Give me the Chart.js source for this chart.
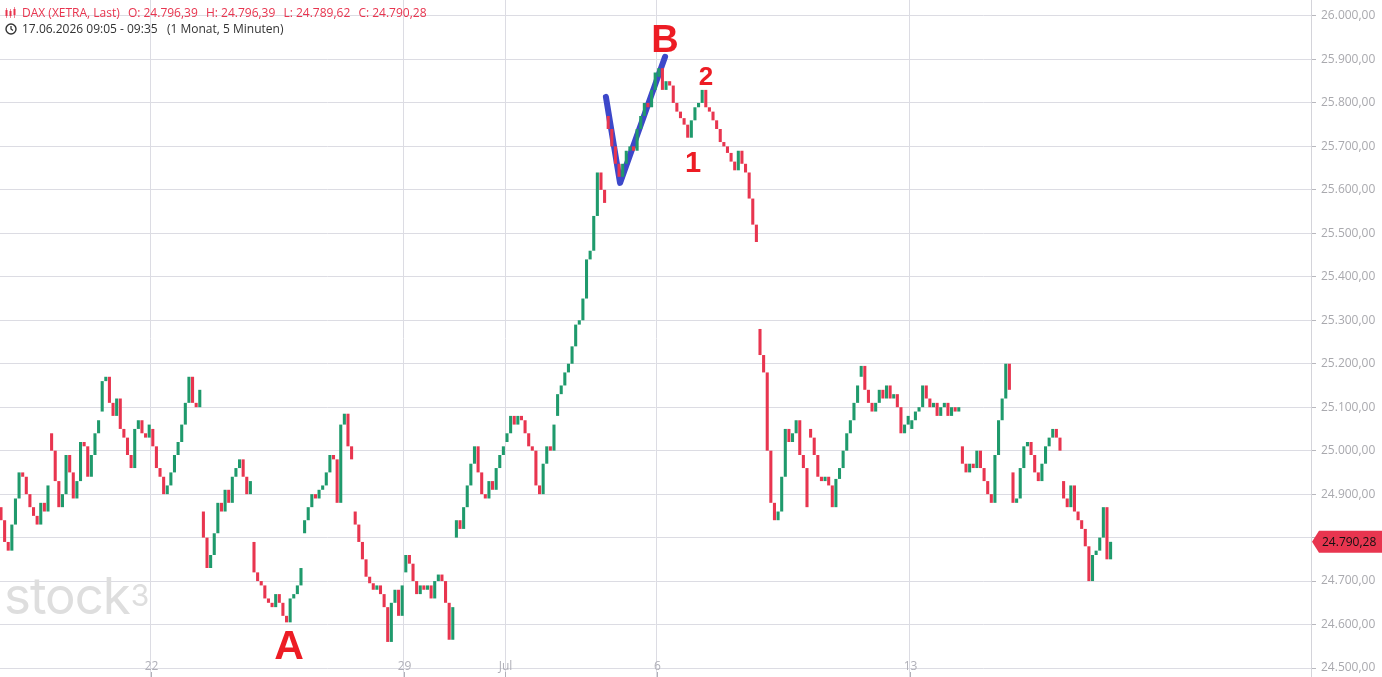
<!DOCTYPE html>
<html>
<head>
<meta charset="utf-8">
<title>DAX (XETRA, Last)</title>
<script src="https://cdn.jsdelivr.net/npm/chart.js@4.4.1/dist/chart.umd.min.js"></script>
<style>
  body { margin: 0; background: #fff; font-family: 'Open Sans', sans-serif; }
  #wrap { position: relative; width: 1382px; height: 677px; overflow: hidden; }
  #grafica { position: absolute; left: 0; top: 0; }
  .info { position: absolute; left: 5px; font-size: 12px; line-height: 16px; white-space: nowrap; }
  .info svg { vertical-align: -2px; margin-right: 5px; }
  #l1 { top: 5px; color: #e8354f; }
  #l1 span { margin-right: 5px; }
  #l2 { top: 21px; color: #333; }
  .mark { position: absolute; transform: translateX(-50%); font-family: 'Liberation Sans', Arial, sans-serif;
          font-weight: bold; color: #ed1c24; line-height: 1; }
  #logo { position: absolute; left: 4px; top: 570px; font-family: Inter, sans-serif; font-size: 51px;
          line-height: 1; color: #dedede; letter-spacing: -1px; }
  #logo sup { font-size: 30px; vertical-align: 8px; margin-left: 1px; }
</style>
</head>
<body>
<div id="wrap">
  <canvas id="grafica" width="1382" height="677"></canvas>
  <div id="logo">stock<sup>3</sup></div>
  <div class="info" id="l1"><svg width="12" height="12" viewBox="0 0 12 12"><g fill="#e8354f"><rect x="0.5" y="3" width="2" height="6"/><rect x="1.2" y="1" width="0.6" height="10"/><rect x="4.5" y="4" width="2" height="5"/><rect x="5.2" y="2" width="0.6" height="9"/><rect x="8.5" y="2" width="2" height="6"/><rect x="9.2" y="0" width="0.6" height="11"/></g></svg><span>DAX (XETRA, Last)</span> <span>O: 24.796,39</span> <span>H: 24.796,39</span> <span>L: 24.789,62</span> <span>C: 24.790,28</span></div>
  <div class="info" id="l2"><svg width="12" height="12" viewBox="0 0 12 12"><circle cx="6" cy="6" r="5" fill="none" stroke="#333" stroke-width="1.4"/><path d="M6 3 V6 L8 7.5" fill="none" stroke="#333" stroke-width="1.3"/></svg>17.06.2026 09:05 - 09:35 &nbsp; (1 Monat, 5 Minuten)</div>
  <div class="mark" style="left:665px; top:20px; font-size:38px;">B</div>
  <div class="mark" style="left:706px; top:63px; font-size:26px;">2</div>
  <div class="mark" style="left:693px; top:148px; font-size:29px;">1</div>
  <div class="mark" style="left:289px; top:625px; font-size:41px;">A</div>
</div>
<script>
// Kurse pro Handelstag: erster Wert = Eröffnung, danach Schlusskurse
const jun17 = [24870, 24840, 24790, 24770, 24830, 24890, 24950, 24940, 24900, 24870, 24850, 24830, 24880, 24860, 24920];
const jun18 = [25040, 25000, 24930, 24870, 24900, 24990, 24950, 24890, 24930, 25020, 25010, 24940, 24990, 25040, 25070];
const jun19 = [25090, 25160, 25170, 25110, 25080, 25120, 25050, 25030, 24990, 24960, 25050, 25070, 25040, 25030, 25060];
const jun22 = [25050, 25010, 24960, 24940, 24900, 24920, 24950, 24990, 25020, 25060, 25110, 25170, 25110, 25100, 25140];
const jun23 = [24860, 24800, 24730, 24760, 24810, 24880, 24860, 24910, 24880, 24940, 24960, 24980, 24940, 24900, 24930];
const jun24 = [24790, 24720, 24700, 24690, 24660, 24650, 24640, 24670, 24650, 24620, 24605, 24660, 24670, 24690, 24730];
const jun25 = [24810, 24840, 24870, 24900, 24890, 24910, 24920, 24950, 24990, 24980, 24880, 25060, 25085, 25010, 24980];
const jun26 = [24860, 24830, 24790, 24750, 24710, 24695, 24680, 24690, 24670, 24640, 24560, 24650, 24680, 24620, 24690];
const jun29 = [24720, 24760, 24740, 24700, 24670, 24690, 24680, 24690, 24660, 24700, 24715, 24700, 24650, 24565, 24640];
const jun30 = [24800, 24840, 24820, 24870, 24920, 24970, 25010, 24950, 24900, 24890, 24930, 24910, 24960, 24990, 25010];
const jul01 = [25020, 25040, 25080, 25060, 25080, 25070, 25040, 25010, 25000, 24920, 24900, 24970, 25010, 25000, 25060];
const jul02 = [25080, 25130, 25150, 25180, 25200, 25240, 25290, 25300, 25350, 25440, 25460, 25540, 25640, 25600, 25570];
const jul03 = [25770, 25740, 25700, 25660, 25630, 25660, 25690, 25700, 25690, 25740, 25770, 25800, 25790, 25830, 25870];
const jul06 = [25860, 25880, 25830, 25850, 25840, 25800, 25780, 25765, 25750, 25720, 25760, 25790, 25800, 25830, 25790];
const jul07 = [25790, 25780, 25760, 25740, 25710, 25700, 25685, 25665, 25645, 25690, 25660, 25640, 25580, 25520, 25480];
const jul08 = [25280, 25220, 25180, 25000, 24880, 24840, 24860, 24940, 25050, 25020, 25040, 25070, 24990, 24960, 24870];
const jul09 = [25050, 25030, 24990, 24940, 24930, 24940, 24920, 24870, 24935, 24960, 25000, 25040, 25070, 25110, 25150];
const jul10 = [25170, 25195, 25140, 25110, 25090, 25110, 25140, 25120, 25150, 25120, 25130, 25100, 25040, 25060, 25080];
const jul13 = [25050, 25070, 25090, 25100, 25150, 25120, 25100, 25110, 25080, 25100, 25110, 25080, 25100, 25090, 25100];
const jul14 = [25010, 24970, 24950, 24970, 24960, 25000, 24960, 24930, 24900, 24880, 24990, 25070, 25120, 25200, 25140];
const jul15 = [24950, 24880, 24890, 24960, 25010, 25020, 24990, 24950, 24930, 24970, 25010, 25030, 25050, 25030, 25000];
const jul16 = [24930, 24890, 24870, 24920, 24860, 24840, 24820, 24780, 24700, 24760, 24770, 24800, 24870, 24750, 24790.28];

const tage = [jun17, jun18, jun19, jun22, jun23, jun24, jun25, jun26, jun29, jun30, jul01,
              jul02, jul03, jul06, jul07, jul08, jul09, jul10, jul13, jul14, jul15, jul16];

// Achsen
const xTickTage = [3, 8, 10, 13, 18];
const xTickLabels = ['22', '29', 'Jul', '6', '13'];
const yTicks = [24500, 24600, 24700, 24800, 24900, 25000, 25100, 25200, 25300, 25400, 25500, 25600, 25700, 25800, 25900, 26000];
const letzterKurs = 24790.28;

// blaue Zeichnung (V) in Tag/Kurs
const vLinie = [{x: 11.99, y: 25814}, {x: 12.27, y: 25616}, {x: 13.16, y: 25906}];

const gruen = '#1f9a6c';
const rot = '#e8354f';

const kerzen = [];
tage.forEach((t, d) => {
  const n = t.length - 1;
  for (let i = 1; i <= n; i++) {
    kerzen.push({x: d + (i - 0.5) / n, y: [t[i - 1], t[i]]});
  }
});

function deZahl(v) {
  const s = v.toFixed(2).split('.');
  return s[0].replace(/\B(?=(\d{3})+(?!\d))/g, '.') + ',' + s[1];
}

// x-Beschriftung innerhalb der Fläche + Kurs-Fähnchen
const extras = {
  id: 'extras',
  afterDraw(chart) {
    const c = chart.ctx;
    const xs = chart.scales.x, ys = chart.scales.y;
    c.save();
    c.font = '12px "Open Sans"';
    c.textAlign = 'center';
    c.textBaseline = 'middle';
    xTickTage.forEach((d, i) => {
      const px = Math.round(xs.getPixelForValue(d)) + 0.5;
      c.fillStyle = '#b0b0b8';
      c.fillText(xTickLabels[i], px, 667);
      c.strokeStyle = '#b0b0b8';
      c.beginPath(); c.moveTo(px, 672); c.lineTo(px, 677); c.stroke();
    });
    const py = ys.getPixelForValue(letzterKurs);
    const x0 = chart.chartArea.right + 1;
    c.fillStyle = rot;
    c.beginPath();
    c.moveTo(x0, py);
    c.lineTo(x0 + 7, py - 11);
    c.lineTo(1382, py - 11);
    c.lineTo(1382, py + 11);
    c.lineTo(x0 + 7, py + 11);
    c.closePath();
    c.fill();
    c.fillStyle = '#111';
    c.textAlign = 'left';
    c.fillText(deZahl(letzterKurs), x0 + 10, py + 0.5);
    c.restore();
  }
};

const ctx = document.getElementById('grafica');
new Chart(ctx, {
  type: 'bar',
  data: {
    datasets: [{
      data: kerzen,
      backgroundColor: c => (c.raw && c.raw.y[1] >= c.raw.y[0]) ? gruen : rot,
      barPercentage: 0.85,
      categoryPercentage: 1,
      borderWidth: 0
    }, {
      type: 'line',
      data: vLinie,
      borderColor: '#3d48c9',
      borderWidth: 6,
      borderCapStyle: 'round',
      borderJoinStyle: 'round',
      pointRadius: 0,
      tension: 0
    }]
  },
  options: {
    responsive: false,
    animation: false,
    layout: { padding: 0 },
    plugins: { legend: { display: false }, tooltip: { enabled: false } },
    scales: {
      x: {
        type: 'linear',
        offset: false,
        min: 0.016,
        max: 25.925,
        afterBuildTicks: s => { s.ticks = xTickTage.map(v => ({value: v})); },
        afterFit: s => { s.height = 0; s.paddingLeft = 0; s.paddingRight = 0; },
        ticks: { display: false },
        grid: { color: '#dcdce3', drawTicks: false, offset: false },
        border: { display: false }
      },
      y: {
        position: 'right',
        min: 24479.3,
        max: 26036.8,
        afterBuildTicks: s => { s.ticks = yTicks.map(v => ({value: v})); },
        afterFit: s => { s.width = 71; s.paddingTop = 0; s.paddingBottom = 0; },
        ticks: {
          padding: 5,
          color: '#a9a9ae',
          font: { family: 'Open Sans', size: 12 },
          callback: v => deZahl(v)
        },
        grid: { color: '#dcdce3', tickColor: '#b8b8be', tickLength: 5 },
        border: { display: true, color: '#d4d4da' }
      }
    }
  },
  plugins: [extras]
});
</script>
</body>
</html>
